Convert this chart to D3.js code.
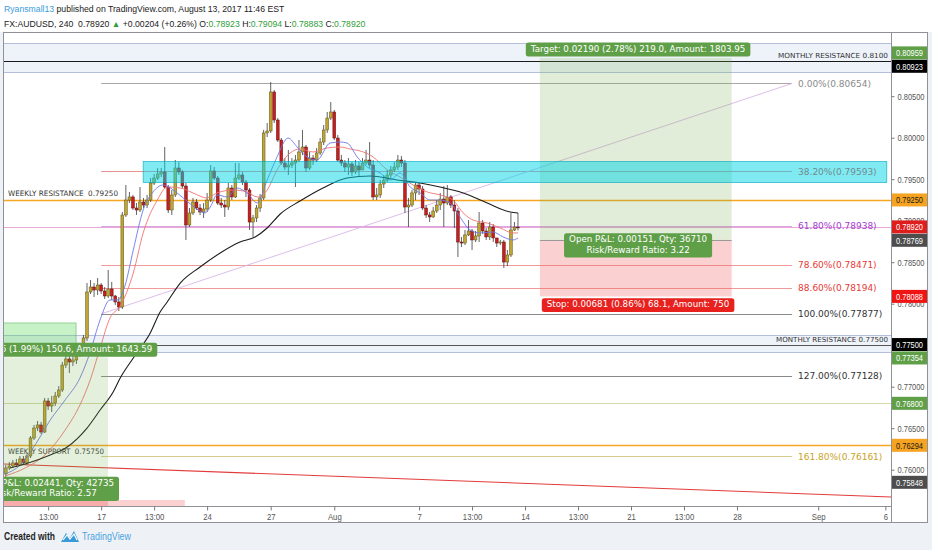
<!DOCTYPE html>
<html><head><meta charset="utf-8">
<script src="https://cdn.jsdelivr.net/npm/d3@7/dist/d3.min.js"></script>
<style>
html,body{margin:0;padding:0;background:#eef2f7;overflow:hidden}
svg{display:block}
</style></head><body>
<svg id="chart" width="932" height="550"></svg>
<script>
// ---------------- DATA ----------------
const firstIndex = -27; // candle index of first candle (0 = Mon 17 Jul)
const open = [0.75948,0.76021,0.76045,0.76081,0.76057,0.76129,0.76081,0.76165,0.76382,0.76502,
0.76539,0.76454,0.76828,0.76767,0.76804,0.76888,0.76960,0.77261,0.77334,0.77298,
0.77322,0.77382,0.77466,0.77587,0.78141,0.78201,0.78165,0.78225,0.78153,0.78093,
0.78177,0.78093,0.78021,0.77960,0.79069,0.79249,0.79286,0.79153,0.79129,0.79225,
0.79189,0.79249,0.79454,0.79514,0.79563,0.79587,0.79406,0.79129,0.79310,0.79635,
0.79587,0.79418,0.78948,0.79093,0.79225,0.79153,0.79105,0.79141,0.79249,0.79599,
0.79514,0.79213,0.79189,0.79165,0.79394,0.79286,0.79514,0.79551,0.79466,0.79370,
0.78984,0.79033,0.79153,0.79274,0.80057,0.80081,0.80551,0.80213,0.79972,0.79695,
0.79647,0.79671,0.79695,0.79731,0.79828,0.79888,0.79635,0.79755,0.79731,0.79816,
0.79948,0.80093,0.80237,0.80310,0.79996,0.79731,0.79695,0.79647,0.79683,0.79587,
0.79659,0.79611,0.79695,0.79731,0.79671,0.79286,0.79310,0.79442,0.79490,0.79551,
0.79611,0.79647,0.79731,0.79695,0.79165,0.79189,0.79334,0.79430,0.79382,0.79153,
0.79069,0.79045,0.79117,0.79189,0.79261,0.79213,0.79286,0.79189,0.79117,0.78743,
0.78731,0.78828,0.78876,0.78768,0.78816,0.78972,0.78876,0.78804,0.78924,0.78792,
0.78731,0.78743,0.78502,0.78587,0.78888,0.78923];
const high = [0.76057,0.76093,0.76117,0.76129,0.76165,0.76165,0.76201,0.76406,0.76539,0.76587,
0.76575,0.76864,0.76864,0.76888,0.76936,0.77008,0.77298,0.77418,0.77370,0.77394,
0.77430,0.77527,0.77623,0.78249,0.78286,0.78249,0.78310,0.78249,0.78201,0.78406,
0.78262,0.78105,0.78081,0.79105,0.79430,0.79346,0.79310,0.79213,0.79406,0.79274,
0.79310,0.79514,0.79563,0.79635,0.79635,0.79888,0.79430,0.79370,0.79731,0.79707,
0.79611,0.79454,0.79153,0.79274,0.79261,0.79201,0.79213,0.79334,0.79671,0.79647,
0.79539,0.79274,0.79249,0.79454,0.79430,0.79695,0.79695,0.79587,0.79490,0.79394,
0.79069,0.79189,0.79322,0.80093,0.80177,0.80671,0.80575,0.80237,0.79996,0.79755,
0.79852,0.79755,0.79792,0.79972,0.80093,0.79912,0.79828,0.79792,0.79876,0.79996,
0.80153,0.80310,0.80430,0.80334,0.80033,0.79792,0.79731,0.79755,0.79707,0.79731,
0.79707,0.79755,0.79852,0.79948,0.79731,0.79394,0.79490,0.79551,0.79611,0.79659,
0.79707,0.79792,0.79780,0.79731,0.79274,0.79370,0.79466,0.79454,0.79418,0.79189,
0.79105,0.79165,0.79249,0.79334,0.79418,0.79430,0.79310,0.79249,0.79153,0.78804,
0.78888,0.79008,0.78900,0.78876,0.79105,0.79008,0.78912,0.78984,0.78960,0.78792,
0.78768,0.78768,0.78647,0.79093,0.78984,0.79094];
const low = [0.75912,0.75996,0.76021,0.76033,0.76045,0.76057,0.76057,0.76141,0.76358,0.76466,
0.76430,0.76442,0.76719,0.76695,0.76767,0.76864,0.76936,0.77225,0.77165,0.77249,
0.77273,0.77358,0.77442,0.77551,0.78117,0.78081,0.78105,0.78117,0.78057,0.78069,
0.78045,0.77984,0.77912,0.77936,0.79045,0.79213,0.79129,0.79069,0.79105,0.79153,
0.79153,0.79225,0.79430,0.79490,0.79527,0.79382,0.79093,0.79069,0.79286,0.79551,
0.79394,0.78768,0.78924,0.79069,0.79129,0.79069,0.79033,0.79105,0.79225,0.79490,
0.79189,0.79153,0.79045,0.79129,0.79249,0.79274,0.79490,0.79430,0.79286,0.78888,
0.78804,0.78984,0.79105,0.79249,0.80008,0.80057,0.80177,0.79948,0.79671,0.79611,
0.79551,0.79635,0.79406,0.79707,0.79792,0.79587,0.79611,0.79671,0.79707,0.79792,
0.79912,0.80057,0.80213,0.79972,0.79707,0.79659,0.79587,0.79551,0.79539,0.79563,
0.79539,0.79635,0.79671,0.79635,0.79249,0.79249,0.79274,0.79394,0.79466,0.79514,
0.79587,0.79611,0.79647,0.79093,0.78924,0.79165,0.79249,0.79310,0.79129,0.79033,
0.78984,0.79033,0.79093,0.79129,0.78924,0.79189,0.79153,0.78912,0.78563,0.78683,
0.78707,0.78816,0.78647,0.78743,0.78743,0.78840,0.78768,0.78768,0.78743,0.78683,
0.78707,0.78430,0.78454,0.78563,0.78876,0.78883];
const close = [0.76021,0.76045,0.76081,0.76057,0.76129,0.76081,0.76165,0.76382,0.76502,0.76539,
0.76454,0.76828,0.76767,0.76804,0.76888,0.76960,0.77261,0.77334,0.77298,0.77322,
0.77382,0.77466,0.77587,0.78141,0.78201,0.78165,0.78225,0.78153,0.78093,0.78177,
0.78093,0.78021,0.77960,0.79069,0.79249,0.79286,0.79153,0.79129,0.79225,0.79189,
0.79249,0.79454,0.79514,0.79563,0.79587,0.79406,0.79129,0.79310,0.79635,0.79587,
0.79418,0.78948,0.79093,0.79225,0.79153,0.79105,0.79141,0.79249,0.79599,0.79514,
0.79213,0.79189,0.79165,0.79394,0.79286,0.79514,0.79551,0.79466,0.79370,0.78984,
0.79033,0.79153,0.79274,0.80057,0.80081,0.80551,0.80213,0.79972,0.79695,0.79647,
0.79671,0.79695,0.79731,0.79828,0.79888,0.79635,0.79755,0.79731,0.79816,0.79948,
0.80093,0.80237,0.80310,0.79996,0.79731,0.79695,0.79647,0.79683,0.79587,0.79659,
0.79611,0.79695,0.79731,0.79671,0.79286,0.79310,0.79442,0.79490,0.79551,0.79611,
0.79647,0.79731,0.79695,0.79165,0.79189,0.79334,0.79430,0.79382,0.79153,0.79069,
0.79045,0.79117,0.79189,0.79261,0.79213,0.79286,0.79189,0.79117,0.78743,0.78731,
0.78828,0.78876,0.78768,0.78816,0.78972,0.78876,0.78804,0.78924,0.78792,0.78731,
0.78743,0.78502,0.78587,0.78888,0.78923,0.78920];

// moving averages (candle index, price)
const smaIdx = [-25.8,-21.5,-14.4,-9.6,-4,-0.3,3.4,5.4,9.1,13.9,16.7,18.7,22.4,28,33.7,39.3,43.6,47,50.7,56.3,62.8,69.6,76.1,83.8,90.3,95.9,102.5,109.3,115.8,118];
const smaVal = [0.76021,0.76069,0.76177,0.76274,0.76502,0.76719,0.76936,0.77105,0.77346,0.77647,0.77900,0.78021,0.78249,0.78442,0.78611,0.78743,0.78804,0.78912,0.79081,0.79237,0.79394,0.79514,0.79539,0.79490,0.79454,0.79406,0.79334,0.79213,0.79105,0.79093];
const fastIdx = [-27.2,-22.9,-18.7,-14.4,-10.2,-6,-3.1,-0.3,2.5,4.8,6.8,9.1,11.9,14.7,17.5,21.5,24.6,27.5,29.4,30.9,32.8,35.7,38.5,41.3,44.2,47,49.8,52.9,55.5,58.3,61.1,64.8,67.6,69.6,72.5,75.3,79,81.8,84.6,87.5,90.3,93.1,96,98.8,101.6,104.4,107.3,110.9,113.8,116.6,118];
const fastVal = [0.75948,0.76057,0.76298,0.76599,0.76840,0.77105,0.77418,0.77804,0.78045,0.78045,0.78225,0.78647,0.79129,0.79346,0.79430,0.79334,0.79225,0.79129,0.79093,0.79165,0.79310,0.79286,0.79394,0.79334,0.79213,0.79490,0.79768,0.79996,0.79888,0.79768,0.79731,0.79936,0.79948,0.79936,0.79768,0.79647,0.79575,0.79490,0.79575,0.79406,0.79334,0.79249,0.79249,0.79213,0.79045,0.78888,0.78852,0.78864,0.78804,0.78768,0.78792];
const slowIdx = [-27.2,-21.5,-15.9,-10.2,-6,-3.1,-0.3,2.5,5.4,9.1,11.9,15.9,18.7,22.4,26,30,32.8,37.4,41.3,44.2,47,49.8,53.5,56.3,60,64,67.6,70.5,74.2,77,81,84.6,88.3,92.3,96,99.6,102.5,105.3,109.3,113,116.6,118];
const slowVal = [0.75924,0.76021,0.76177,0.76478,0.76780,0.77081,0.77466,0.77828,0.77972,0.78370,0.78852,0.79249,0.79406,0.79394,0.79334,0.79274,0.79334,0.79370,0.79346,0.79286,0.79370,0.79611,0.79816,0.79864,0.79828,0.79876,0.79888,0.79864,0.79828,0.79768,0.79611,0.79527,0.79430,0.79346,0.79310,0.79249,0.79093,0.79008,0.78972,0.78912,0.78852,0.78852];

// axes
const timeTickIdx = [-15,0,15,30,48,66,90,105,120,135,150,165,180,203,222];
const timeTickText = ["13:00","17","13:00","24","27","Aug","7","13:00","14","13:00","21","13:00","28","Sep","6"];
const priceTicks = [0.805,0.800,0.795,0.790,0.785,0.780,0.775,0.770,0.765,0.760];

// horizontal levels
const levelPrices = [0.80923,0.79250,0.78920,0.77500,0.76800,0.76294];
const levelColors = ["#1a1a1a","#f5a623","#eaa6d6","#555555","#d5d9a8","#f5a623"];
const bandTop = [0.81141,0.80792];
const bandBottom = [0.77623,0.77418];

// fibonacci
const fibText = ["0.00%(0.80654)","38.20%(0.79593)","61.80%(0.78938)","78.60%(0.78471)","88.60%(0.78194)","100.00%(0.77877)","127.00%(0.77128)","161.80%(0.76161)"];
const fibPrices = [0.80654,0.79593,0.78938,0.78471,0.78194,0.77877,0.77128,0.76161];
const fibLine = ["#a8a8a8","#e99090","#dca6e4","#f19a9a","#f19a9a","#8a8a8a","#8a8a8a","#d8cc8e"];
const fibLabel = ["#8a8a8a","#e53935","#a33ccf","#e53935","#e53935","#333333","#333333","#c9a227"];
const fibRange = [0, 195.6];
const fibTrend = [[0,0.77877],[195.6,0.80654]];
const redTrend = [[-27.5,0.76069],[223.6,0.75671]];

// rectangles / positions
const cyanBox = {i0:11.9, i1:222.4, p0:0.79713, p1:0.79460};
const longRight = {i0:124.2, i1:178.5, entry:0.78769, target:0.80959, stop:0.78088, labelIdx:152};
const longLeft = {i0:-32, i1:1.95, entry:0.75848, target:0.77354, stop:0.75262};
const leftBox = {i0:-32, i1:-7.1, p0:0.77768, p1:0.77480};
const leftStop2 = {i0:-32, i1:23.7, p0:0.75635, p1:0.75300};

const badgeValues = [0.80959,0.80923,0.79250,0.78920,0.78769,0.78088,0.77500,0.77354,0.76800,0.76294,0.75848];
const badgeFill = ["#5f9f48","#000000","#f5a320","#df1d1d","#4d4d4d","#f01414","#000000","#5f9f48","#5f9f48","#f5a320","#4d4d4d"];
const badgeInk = ["#fff","#fff","#1a1a1a","#fff","#fff","#fff","#fff","#fff","#fff","#1a1a1a","#fff"];

// ---------------- DRAW ----------------
const svg = d3.select('#chart');
const X0 = 4, X1 = 891, Y0 = 33, Y1 = 506;
const x = d3.scaleLinear().domain([-27.5, 223.6]).range([X0, X1]);
const y = d3.scaleLinear().domain([0.77, 0.81]).range([386.7, 54.7]);
const SANS = '"Liberation Sans",Arial,sans-serif';
const VERD = '"DejaVu Sans",Verdana,sans-serif';

function squeeze(sel, f){ sel.each(function(){ const L=this.getComputedTextLength(); this.setAttribute('textLength', (L*f).toFixed(1)); this.setAttribute('lengthAdjust','spacingAndGlyphs'); }); }
function fit(sel, w){ sel.attr('textLength', w).attr('lengthAdjust','spacingAndGlyphs'); }
// one text element of coloured tspans; font size chosen so the line spans `total` pixels
function colourLine(parent, x0, yb, parts, total, size){
  const t = parent.append('text').attr('x',x0).attr('y',yb).attr('font-family',SANS).attr('font-size',size).style('white-space','pre');
  parts.forEach(p=>t.append('tspan').attr('fill',p[1]).text(p[0]));
  const L = t.node().getComputedTextLength();
  t.attr('font-size', (size*total/L).toFixed(2));
}

svg.append('rect').attr('width',932).attr('height',550).attr('fill','#eef2f7');
svg.append('rect').attr('width',932).attr('height',32).attr('fill','#ffffff');
svg.append('rect').attr('x',3.5).attr('y',32.5).attr('width',924).attr('height',490)
  .attr('fill','#ffffff').attr('stroke','#8e9196');

svg.append('defs').append('clipPath').attr('id','pc').append('rect')
  .attr('x',X0).attr('y',Y0+0.5).attr('width',X1-X0).attr('height',Y1-Y0-0.5);
const g = svg.append('g').attr('clip-path','url(#pc)');

// bands
[bandTop, bandBottom].forEach(b=>{
  g.append('rect').attr('x',X0).attr('width',X1-X0).attr('y',y(b[0])).attr('height',y(b[1])-y(b[0]))
    .attr('fill','rgba(150,172,220,0.16)');
  b.forEach(v=>g.append('line').attr('x1',X0).attr('x2',X1).attr('y1',Math.round(y(v))+0.5).attr('y2',Math.round(y(v))+0.5)
    .attr('stroke','#b3bfdc').attr('stroke-width',1));
});

// horizontal levels
levelPrices.forEach((p,k)=>{
  const yy = Math.round(y(p))+0.5;
  g.append('line').attr('x1',X0).attr('x2',X1).attr('y1',yy).attr('y2',yy)
   .attr('stroke',levelColors[k]).attr('stroke-width', (k===1||k===5)?1.3:1);
});

// fib lines
fibPrices.forEach((p,k)=>{
  const yy = Math.round(y(p))+0.5;
  g.append('line').attr('x1',x(fibRange[0])).attr('x2',x(fibRange[1])).attr('y1',yy).attr('y2',yy)
   .attr('stroke',fibLine[k]).attr('stroke-width',1);
  g.append('text').attr('x',x(fibRange[1])+6).attr('y',y(p)+3.3).text(fibText[k])
   .attr('font-family',VERD).attr('font-size',9).attr('fill',fibLabel[k]);
});
// fib trend
g.append('line').attr('x1',x(fibTrend[0][0])).attr('y1',y(fibTrend[0][1])).attr('x2',x(fibTrend[1][0])).attr('y2',y(fibTrend[1][1]))
  .attr('stroke','#d9b6e8').attr('stroke-width',0.9);
// red trend
g.append('line').attr('x1',x(redTrend[0][0])).attr('y1',y(redTrend[0][1])).attr('x2',x(redTrend[1][0])).attr('y2',y(redTrend[1][1]))
  .attr('stroke','#e33b3b').attr('stroke-width',1.1);

// level texts
const lt = g.append('g').attr('font-family',VERD).attr('fill','#333');
fit(lt.append('text').attr('x',8).attr('y',y(0.7925)-3.5).attr('font-size',7.5).text('WEEKLY RESISTANCE  0.79250').style('white-space','pre'),110);
fit(lt.append('text').attr('x',8).attr('y',y(0.76294)+9).attr('font-size',7.5).text('WEEKLY SUPPORT  0.75750').style('white-space','pre'),96);
fit(lt.append('text').attr('x',888).attr('y',y(0.80923)-3.5).attr('text-anchor','end').attr('font-size',7).text('MONTHLY RESISTANCE 0.8100'),110);
fit(lt.append('text').attr('x',888).attr('y',y(0.775)-3).attr('text-anchor','end').attr('font-size',7).text('MONTHLY RESISTANCE 0.77500'),112);

// candles
const candles = open.map((o,k)=>({i:firstIndex+k,o:o,h:high[k],l:low[k],c:close[k]}));
const cg = g.append('g');
cg.selectAll('line').data(candles).join('line')
  .attr('x1',d=>x(d.i)).attr('x2',d=>x(d.i)).attr('y1',d=>y(d.h)).attr('y2',d=>y(d.l))
  .attr('stroke','#3b3b3b').attr('stroke-width',0.8);
cg.selectAll('rect').data(candles).join('rect')
  .attr('x',d=>x(d.i)-1.4).attr('width',2.8)
  .attr('y',d=>y(Math.max(d.o,d.c))).attr('height',d=>Math.max(0.8,Math.abs(y(d.o)-y(d.c))))
  .attr('fill',d=>d.c>=d.o?'#c1a534':'#c91e1e')
  .attr('stroke',d=>d.c>=d.o?'#5d5316':'#5c1010').attr('stroke-width',0.5);

// moving averages
const ln = d3.line().x(d=>x(d[0])).y(d=>y(d[1])).curve(d3.curveMonotoneX);
g.append('path').attr('d',ln(slowIdx.map((v,k)=>[v,slowVal[k]]))).attr('fill','none').attr('stroke','#f07272').attr('stroke-width',0.9);
g.append('path').attr('d',ln(fastIdx.map((v,k)=>[v,fastVal[k]]))).attr('fill','none').attr('stroke','#6c78e6').attr('stroke-width',0.9);
g.append('path').attr('d',ln(smaIdx.map((v,k)=>[v,smaVal[k]]))).attr('fill','none').attr('stroke','#1c1c1c').attr('stroke-width',1.1);

// positions (translucent zones)
function zone(i0,i1,p0,p1,fill,stroke){
  const r = g.append('rect').attr('x',x(i0)).attr('width',x(i1)-x(i0))
    .attr('y',y(Math.max(p0,p1))).attr('height',Math.abs(y(p0)-y(p1))).attr('fill',fill);
  if(stroke) r.attr('stroke',stroke).attr('stroke-width',0.8);
  return r;
}
zone(longLeft.i0,longLeft.i1,longLeft.target,longLeft.entry,'rgba(118,175,80,0.2)');
zone(longLeft.i0,longLeft.i1,longLeft.entry,longLeft.stop,'rgba(240,80,80,0.27)');
zone(leftStop2.i0,leftStop2.i1,leftStop2.p0,leftStop2.p1,'rgba(240,80,80,0.27)');
zone(leftBox.i0,leftBox.i1,leftBox.p0,leftBox.p1,'rgba(80,210,80,0.32)','rgba(70,170,70,0.6)');
zone(longRight.i0,longRight.i1,longRight.target,longRight.entry,'rgba(118,175,80,0.22)');
zone(longRight.i0,longRight.i1,longRight.entry,longRight.stop,'rgba(240,80,80,0.27)');
g.append('line').attr('x1',x(longRight.i0)).attr('x2',x(longRight.i1)).attr('y1',Math.round(y(longRight.entry))+0.5).attr('y2',Math.round(y(longRight.entry))+0.5)
  .attr('stroke','#9a9a9a');

// cyan rectangle on top
zone(cyanBox.i0,cyanBox.i1,cyanBox.p0,cyanBox.p1,'rgba(0,214,230,0.5)','rgba(0,165,185,0.75)');

// position labels
function labelBox(cx, yTop, lines, fill, size){
  const grp = g.append('g');
  const t = grp.append('text').attr('font-family',VERD).attr('font-size',size).attr('fill','#fff').attr('text-anchor','middle');
  lines.forEach((s,k)=>t.append('tspan').attr('x',cx).attr('y',yTop+ (size+1.6)*(k+1) - 1.2).text(s));
  let w = 0; t.selectAll('tspan').each(function(){ w=Math.max(w,this.getComputedTextLength()); });
  const h = (size+1.6)*lines.length + 3.6;
  grp.insert('rect','text').attr('x',cx-w/2-5).attr('y',yTop).attr('width',w+10).attr('height',h).attr('rx',2.5).attr('fill',fill);
}
labelBox(x(longRight.labelIdx), y(longRight.target)-15.5, ['Target: 0.02190 (2.78%) 219.0, Amount: 1803.95'], '#5f9f48', 8.7);
labelBox(x(longRight.labelIdx), y(longRight.entry)-6.5, ['Open P&L: 0.00151, Qty: 36710','Risk/Reward Ratio: 3.22'], '#5f9f48', 8.7);
labelBox(x(longRight.labelIdx), y(longRight.stop)+1.8, ['Stop: 0.00681 (0.86%) 68.1, Amount: 750'], '#e8211f', 8.7);
labelBox(45, y(longLeft.target)-14.5, ['Target: 0.01506 (1.99%) 150.6, Amount: 1643.59'], '#5f9f48', 8.7);
labelBox(45, y(longLeft.entry)-5.5, ['Open P&L: 0.02441, Qty: 42735','Risk/Reward Ratio: 2.57'], '#5f9f48', 8.7);

// axis separators
svg.append('line').attr('x1',891.5).attr('x2',891.5).attr('y1',33).attr('y2',522).attr('stroke','#8e9196');
svg.append('line').attr('x1',4).attr('x2',891.5).attr('y1',506.5).attr('y2',506.5).attr('stroke','#8e9196');

// price axis
const ya = svg.append('g').attr('transform','translate(891.5,0)')
  .call(d3.axisRight(y).tickValues(priceTicks).tickFormat(d3.format('.5f')).tickSize(3).tickPadding(3));
ya.select('.domain').remove();
ya.selectAll('line').attr('stroke','#777');
ya.selectAll('text').attr('font-family',SANS).attr('font-size',9).attr('fill','#555').attr('dy','0.33em');
fit(ya.selectAll('text'),27);

// time axis
const xa = svg.append('g').attr('transform','translate(0,506.5)')
  .call(d3.axisBottom(x).tickValues(timeTickIdx).tickFormat((d,k)=>timeTickText[k]).tickSize(4).tickPadding(3));
xa.select('.domain').remove();
xa.selectAll('line').attr('stroke','#777');
xa.selectAll('text').attr('font-family',SANS).attr('font-size',9).attr('fill','#555');
squeeze(xa.selectAll('text'),0.86);

// price badges
const bs = badgeValues.map((v,k)=>({v:v,k:k,cy:y(v)})).sort((a,b)=>a.cy-b.cy);
for(let it=0;it<30;it++){ for(let j=1;j<bs.length;j++){ const d=bs[j].cy-bs[j-1].cy; if(d<13.4){ const s=(13.4-d)/2; bs[j-1].cy-=s; bs[j].cy+=s; } } }
const bg = svg.append('g');
bs.forEach(b=>{
  bg.append('rect').attr('x',892).attr('y',b.cy-6.5).attr('width',35).attr('height',13).attr('fill',badgeFill[b.k]);
  fit(bg.append('text').attr('x',896).attr('y',b.cy+3.3).attr('font-family',SANS).attr('font-size',9)
    .attr('fill',badgeInk[b.k]).text(d3.format('.5f')(b.v)),27);
});

// header
const hg = svg.append('g');
colourLine(hg, 4, 11.5, [['Ryansmall13','#3d9be0'],[' published on TradingView.com, August 13, 2017 11:46 EST','#222']], 281, 10.5);
colourLine(hg, 4, 26.5, [['FX:AUDUSD, 240  0.78920 ','#1a1a1a'],['\u25B2','#2f9e3a'],[' +0.00204 (+0.26%) ','#1a1a1a'],['O:','#1a1a1a'],['0.78923','#2f9e3a'],[' H:','#1a1a1a'],['0.79094','#2f9e3a'],[' L:','#1a1a1a'],['0.78883','#2f9e3a'],[' C:','#1a1a1a'],['0.78920','#2f9e3a']], 362, 10.5);

// footer
fit(svg.append('text').attr('x',4).attr('y',540).attr('font-family',SANS).attr('font-size',10.5).attr('font-weight','bold').attr('fill','#1e1e1e').text('Created with'),51);
const logo = svg.append('g').attr('transform','translate(61,530)');
logo.append('path').attr('d','M0,12 L5,3 L9,8 L13,1 L18,12 Z').attr('fill','#3a9ad9');
logo.append('path').attr('d','M2,10 L6,5 L9,9 L13,4 L16,10').attr('fill','none').attr('stroke','#fff').attr('stroke-width',1.2);
fit(svg.append('text').attr('x',82).attr('y',540).attr('font-family',SANS).attr('font-size',10.5).attr('fill','#4aa3df').text('TradingView'),49);
</script>
</body></html>
